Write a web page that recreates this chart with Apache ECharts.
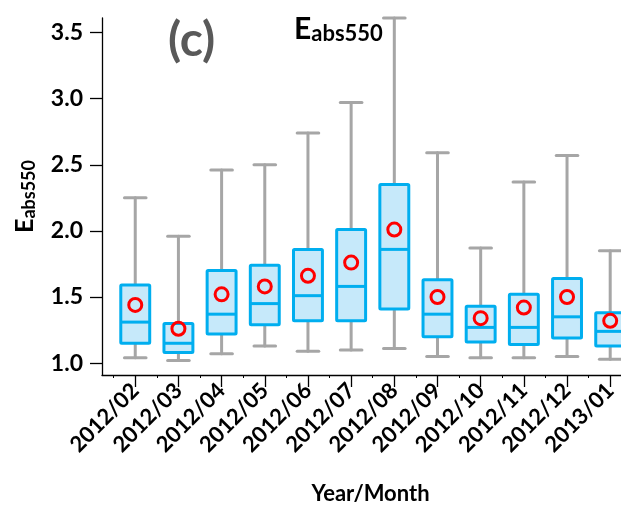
<!DOCTYPE html>
<html>
<head>
<meta charset="utf-8">
<script src="https://cdn.jsdelivr.net/npm/echarts@6/dist/echarts.min.js"></script>
<style>
  html, body { margin: 0; padding: 0; background: #fff; }
  #chart { width: 621px; height: 506px; }
</style>
</head>
<body>
<div id="chart"></div>
<script>
const months = ['2012/02', '2012/03', '2012/04', '2012/05', '2012/06', '2012/07',
  '2012/08', '2012/09', '2012/10', '2012/11', '2012/12', '2013/01'];
const minVals = [1.04, 1.02, 1.07, 1.13, 1.09, 1.10, 1.11, 1.05, 1.04, 1.04, 1.05, 1.03];
const q1Vals = [1.15, 1.08, 1.22, 1.29, 1.32, 1.32, 1.41, 1.20, 1.16, 1.14, 1.19, 1.13];
const medianVals = [1.31, 1.15, 1.37, 1.45, 1.51, 1.58, 1.86, 1.37, 1.27, 1.27, 1.35, 1.24];
const q3Vals = [1.59, 1.30, 1.70, 1.74, 1.86, 2.01, 2.35, 1.63, 1.43, 1.52, 1.64, 1.38];
const maxVals = [2.25, 1.96, 2.46, 2.50, 2.74, 2.97, 3.61, 2.59, 1.87, 2.37, 2.57, 1.85];
const meanVals = [1.44, 1.26, 1.52, 1.58, 1.66, 1.76, 2.01, 1.50, 1.34, 1.42, 1.50, 1.32];
const yTicks = [1.0, 1.5, 2.0, 2.5, 3.0, 3.5];

const positions = months.map((m, i) => i + 1);
const minorPositions = months.map((m, i) => i + 0.5);

const font = 'Lato';
const boxData = positions.map((x, i) => [x, minVals[i], q1Vals[i], medianVals[i], q3Vals[i], maxVals[i]]);
const meanData = positions.map((x, i) => [x, meanVals[i]]);

const chart = echarts.init(document.getElementById('chart'));

function renderBox(params, api) {
  const x = api.value(0);
  const pMin = api.coord([x, api.value(1)]);
  const pQ1 = api.coord([x, api.value(2)]);
  const pMed = api.coord([x, api.value(3)]);
  const pQ3 = api.coord([x, api.value(4)]);
  const pMax = api.coord([x, api.value(5)]);
  const band = api.size([1, 0])[0];
  const boxW = band * 0.67;
  const capW = band * 0.5;
  const whisker = {stroke: '#A6A6A6', lineWidth: 3, lineCap: 'round'};
  const blue = '#00AEEF';
  return {
    type: 'group',
    children: [
      {type: 'line', shape: {x1: pMax[0], y1: pMax[1], x2: pQ3[0], y2: pQ3[1]}, style: whisker},
      {type: 'line', shape: {x1: pMax[0] - capW / 2, y1: pMax[1], x2: pMax[0] + capW / 2, y2: pMax[1]}, style: whisker},
      {type: 'line', shape: {x1: pQ1[0], y1: pQ1[1], x2: pMin[0], y2: pMin[1]}, style: whisker},
      {type: 'line', shape: {x1: pMin[0] - capW / 2, y1: pMin[1], x2: pMin[0] + capW / 2, y2: pMin[1]}, style: whisker},
      {
        type: 'rect',
        shape: {x: pQ3[0] - boxW / 2, y: pQ3[1], width: boxW, height: pQ1[1] - pQ3[1], r: 1},
        style: {fill: '#C6E9FA', stroke: blue, lineWidth: 3}
      },
      {type: 'line', shape: {x1: pMed[0] - boxW / 2, y1: pMed[1], x2: pMed[0] + boxW / 2, y2: pMed[1]},
        style: {stroke: blue, lineWidth: 3}}
    ]
  };
}

let option = {
  animation: false,
  title: [
    {
      text: '(c)',
      left: 163,
      top: 12,
      textStyle: {fontFamily: font, fontWeight: 'bold', fontSize: 48, color: '#595959'}
    },
    {
      text: '{e|E}{s|abs550}',
      left: 289,
      top: 8,
      textStyle: {
        rich: {
          e: {fontFamily: font, fontWeight: 'bold', fontSize: 30, lineHeight: 32, color: '#000'},
          s: {fontFamily: font, fontWeight: 'bold', fontSize: 22, lineHeight: 17, color: '#000', verticalAlign: 'bottom'}
        }
      }
    }
  ],
  grid: {left: 102, top: 18, right: 0, bottom: 131, containLabel: false, outerBoundsMode: 'none'},
  xAxis: [
    {
      type: 'value',
      min: 0.23,
      max: 12.25,
      name: 'Year/Month',
      nameLocation: 'middle',
      nameGap: 108,
      nameTextStyle: {fontFamily: font, fontWeight: 'bold', fontSize: 22, color: '#000', padding: [0, 0, 0, 18]},
      splitLine: {show: false},
      axisLine: {show: true, lineStyle: {color: '#000', width: 1.3}},
      axisTick: {show: true, length: 12, customValues: positions, lineStyle: {color: '#000', width: 1.3}},
      axisLabel: {
        customValues: positions,
        rotate: 45,
        margin: 12,
        fontFamily: font,
        fontWeight: 'bold',
        fontSize: 22,
        color: '#000',
        formatter: v => months[Math.round(v) - 1]
      }
    },
    {
      type: 'value',
      min: 0.23,
      max: 12.25,
      position: 'bottom',
      splitLine: {show: false},
      axisLine: {show: false},
      axisTick: {show: true, length: 3, customValues: minorPositions, lineStyle: {color: '#000', width: 1}},
      axisLabel: {show: false}
    }
  ],
  yAxis: {
    type: 'value',
    min: 0.91,
    max: 3.61,
    name: '{e|E}{s|abs550}',
    nameLocation: 'middle',
    nameGap: 64,
    nameTextStyle: {
      rich: {
        e: {fontFamily: font, fontWeight: 'bold', fontSize: 25, lineHeight: 26, color: '#000'},
        s: {fontFamily: font, fontWeight: 'bold', fontSize: 18, lineHeight: 13, color: '#000', verticalAlign: 'bottom'}
      }
    },
    splitLine: {show: false},
    axisLine: {show: true, lineStyle: {color: '#000', width: 1.3}},
    axisTick: {show: true, length: 12, customValues: yTicks, lineStyle: {color: '#000', width: 1.3}},
    axisLabel: {
      customValues: yTicks,
      margin: 19,
      fontFamily: font,
      fontWeight: 'bold',
      fontSize: 23,
      color: '#000',
      formatter: v => v.toFixed(1)
    }
  },
  series: [
    {
      name: 'box',
      type: 'custom',
      renderItem: renderBox,
      encode: {x: 0, y: [1, 2, 3, 4, 5]},
      data: boxData,
      z: 2
    },
    {
      name: 'mean',
      type: 'scatter',
      symbol: 'circle',
      symbolSize: 13,
      itemStyle: {color: 'rgba(0,0,0,0)', borderColor: '#FF0000', borderWidth: 3, opacity: 1},
      data: meanData,
      z: 3
    }
  ]
};

chart.setOption(option);
</script>
</body>
</html>
